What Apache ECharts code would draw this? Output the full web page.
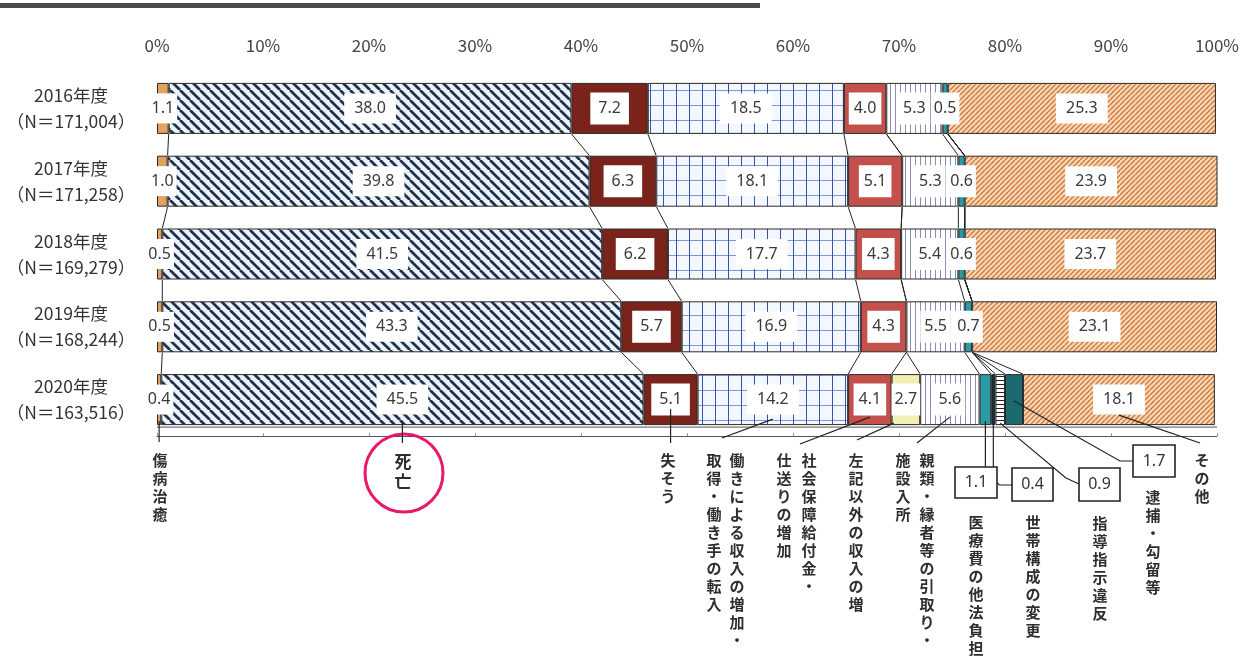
<!DOCTYPE html>
<html><head><meta charset="utf-8">
<script src="https://cdn.jsdelivr.net/npm/echarts@6/dist/echarts.min.js"></script>
<style>html,body{margin:0;padding:0;background:#fff}#c{width:1250px;height:664px}</style>
</head><body><div id="c"></div>
<script>
// ---- data ----
const years = ['2016年度','2017年度','2018年度','2019年度','2020年度'];
const nCounts = ['171,004','171,258','169,279','168,244','163,516'];
const seriesNames = ['傷病治癒','死亡','失そう','働きによる収入の増加・取得・働き手の転入','社会保障給付金・仕送りの増加','左記以外の収入の増','親類・縁者等の引取り・施設入所','医療費の他法負担','世帯構成の変更','指導指示違反','逮捕・勾留等','その他'];
const recovery       = [1.1, 1.0, 0.5, 0.5, 0.4];
const death          = [38.0, 39.8, 41.5, 43.3, 45.5];
const missing        = [7.2, 6.3, 6.2, 5.7, 5.1];
const workIncome     = [18.5, 18.1, 17.7, 16.9, 14.2];
const socialSecurity = [4.0, 5.1, 4.3, 4.3, 4.1];
const otherIncome    = [null, null, null, null, 2.7];
const relatives      = [5.3, 5.3, 5.4, 5.5, 5.6];
const medical        = [0.5, 0.6, 0.6, 0.7, 1.1];
const household      = [null, null, null, null, 0.4];
const guidance       = [null, null, null, null, 0.9];
const arrest         = [null, null, null, null, 1.7];
const others         = [25.3, 23.9, 23.7, 23.1, 18.1];
const xMin = 0, xMax = 100, xStep = 10;

const allVals = [recovery, death, missing, workIncome, socialSecurity, otherIncome, relatives, medical, household, guidance, arrest, others];

// ---- patterns ----
function tile(w, h, draw) {
  const c = document.createElement('canvas'); c.width = w; c.height = h;
  const g = c.getContext('2d'); draw(g, w, h); return c;
}
function diag(s, bg, fg, lw, back) {
  return tile(s, s, (g) => {
    g.fillStyle = bg; g.fillRect(0, 0, s, s);
    g.strokeStyle = fg; g.lineWidth = lw;
    for (const o of [-s, 0, s]) {
      g.beginPath();
      if (back) { g.moveTo(o, 0); g.lineTo(o + s, s); }
      else { g.moveTo(o, s); g.lineTo(o + s, 0); }
      g.stroke();
    }
  });
}
const pDeath = diag(10, '#eaf2fb', '#223049', 2.7, true);
const pOthers = diag(5, '#f7d8b8', '#d27a3c', 1.5, false);
const pWork = tile(13, 15, (g, w, h) => {
  g.fillStyle = '#f4f8fe'; g.fillRect(0, 0, w, h);
  g.fillStyle = '#7e97d6'; g.fillRect(0, 0, w, 1);
  g.fillStyle = '#3454a8'; g.fillRect(0, 0, 1, h);
});
const pRel = tile(5, 6, (g, w, h) => {
  g.fillStyle = '#ffffff'; g.fillRect(0, 0, w, h);
  g.fillStyle = '#8d8bb4'; g.fillRect(0, 0, 1, h);
});
const pGuid = tile(6, 4, (g, w, h) => {
  g.fillStyle = '#ffffff'; g.fillRect(0, 0, w, h);
  g.fillStyle = '#222'; g.fillRect(0, 0, w, 1);
});
const pat = (c) => ({ image: c, repeat: 'repeat' });
const fills = ['#e3a35e', pat(pDeath), '#7a231b', pat(pWork), '#c4504c', '#f2efb2', pat(pRel), '#2a9aa3', '#1d2d33', pat(pGuid), '#1b6a70', pat(pOthers)];
const pads = [[7,3],[7,10],[8,8],[7,10],[8,5],[8,3],[8,4],[8,3],[8,3],[8,3],[8,3],[7,10]];

const BAR_W = 51;
const hiddenLabel2020 = [7, 8, 9, 10];

const series = allVals.map((vals, k) => ({
  name: seriesNames[k], type: 'bar', stack: 'total', barWidth: BAR_W,
  itemStyle: { color: fills[k], borderColor: '#2a2a2a', borderWidth: 1 },
  label: {
    show: true, position: 'inside', color: '#3a3a3a', fontSize: 16,
    fontFamily: 'Noto Sans', backgroundColor: '#fff', padding: pads[k],
    formatter: (p) => (p.value == null ? '' : Number(p.value).toFixed(1))
  },
  data: vals.map((v, i) => (i === 4 && hiddenLabel2020.includes(k)) ? { value: v, label: { show: false } } : v)
}));

// series lines between bars
const lineData = [];
for (let k = 0; k < allVals.length - 1; k++) {
  for (let i = 0; i < years.length - 1; i++) {
    let a = 0, b = 0;
    for (let j = 0; j <= k; j++) { a += allVals[j][i] || 0; b += allVals[j][i + 1] || 0; }
    lineData.push([a, i, b, i + 1]);
  }
}
series.push({
  type: 'custom', silent: true, z: 1,
  encode: { x: [0, 2], y: [1, 3] },
  data: lineData,
  renderItem: (params, api) => {
    const p1 = api.coord([api.value(0), api.value(1)]);
    const p2 = api.coord([api.value(2), api.value(3)]);
    return { type: 'line', shape: { x1: p1[0], y1: p1[1] + BAR_W / 2, x2: p2[0], y2: p2[1] - BAR_W / 2 },
      style: { stroke: '#222', lineWidth: 1 } };
  }
});

const chart = echarts.init(document.getElementById('c'));
chart.setOption({
  animation: false,
  grid: { left: 157, right: 33, top: 72, height: 364 },
  xAxis: [
    { type: 'value', position: 'top', min: xMin, max: xMax, interval: xStep,
      axisLine: { show: false }, axisTick: { show: false }, splitLine: { show: false },
      axisLabel: { formatter: '{value}%', fontSize: 17, color: '#444', margin: 18, fontFamily: 'Noto Sans CJK JP' } },
    { type: 'value', position: 'bottom', min: xMin, max: xMax, interval: xStep,
      axisLine: { show: true, lineStyle: { color: '#555', width: 1 } },
      axisTick: { show: true, inside: true, length: 3, lineStyle: { color: '#999' } },
      splitLine: { show: false }, axisLabel: { show: false } }
  ],
  yAxis: {
    type: 'category', inverse: true,
    data: years.map((y, i) => y + '\n（N＝' + nCounts[i] + '）'),
    axisLine: { show: false }, axisTick: { show: false },
    axisLabel: { fontSize: 17.5, lineHeight: 26, color: '#333', align: 'center', margin: 86, fontFamily: 'Noto Sans CJK JP' }
  },
  series
});

// ---- annotations ----
const px = (x, i) => chart.convertToPixel({ xAxisIndex: 0, yAxisIndex: 0 }, [x, i]);
const last = years.length - 1;
function segCenter(k) {
  let s = 0; for (let j = 0; j < k; j++) s += allVals[j][last] || 0;
  return px(s + (allVals[k][last] || 0) / 2, last)[0];
}
const barBottom = px(0, last)[1] + BAR_W / 2;
const left = px(xMin, last)[0], right = px(xMax, last)[0];
const vtext = (str, x, y, size, lh) => ({
  type: 'text', z: 10,
  style: { text: str.split('').join('\n'), x, y, fontSize: size || 15, fontWeight: 'bold', fontFamily: 'Noto Sans CJK JP',
    lineHeight: lh || 18, fill: '#2e2e2e', textAlign: 'center', textVerticalAlign: 'top' }
});
const pl = (pts) => ({ type: 'polyline', z: 10, shape: { points: pts }, style: { stroke: '#222', lineWidth: 1.2, fill: null } });
const box = (x, y, w, h, v) => ([
  { type: 'rect', z: 10, shape: { x, y, width: w, height: h }, style: { fill: '#fff', stroke: '#222', lineWidth: 1.6 } },
  { type: 'text', z: 11, style: { text: Number(v).toFixed(1), x: x + w / 2, y: y + h / 2, fontSize: 16, fontFamily: 'Noto Sans',
    fill: '#333', textAlign: 'center', textVerticalAlign: 'middle' } }
]);

const g = [];
g.push({ type: 'rect', shape: { x: 0, y: 3, width: 760, height: 5 }, style: { fill: '#4a4a4a' } });
g.push({ type: 'line', shape: { x1: left, y1: barBottom + 2, x2: right, y2: barBottom + 2 }, style: { stroke: '#555', lineWidth: 1 } });

const c0 = segCenter(0), c1 = segCenter(1), c2 = segCenter(2), c3 = segCenter(3), c4 = segCenter(4),
      c5 = segCenter(5), c6 = segCenter(6), c7 = segCenter(7), c8 = segCenter(8), c9 = segCenter(9),
      c10 = segCenter(10), c11 = segCenter(11);

g.push(pl([[c0, barBottom - 4], [c0, 442]]));
g.push(pl([[c1, barBottom - 4], [c1, 443]]));
g.push(pl([[c2, barBottom - 16], [c2, 443]]));
g.push(pl([[c3, barBottom - 6], [722, 438]]));
g.push(pl([[c4, barBottom - 8], [800, 444]]));
g.push(pl([[c5 - 12, barBottom - 2], [857, 440]]));
g.push(pl([[c6, barBottom - 8], [917, 443]]));
g.push(pl([[c7, barBottom - 4], [c7, 467]]));
g.push(pl([[c8, barBottom - 4], [c8, 480], [c8 + 6, 485], [1012, 485]]));
g.push(pl([[c9, barBottom - 2], [1066, 478], [1079, 484]]));
g.push(pl([[c10, barBottom - 24], [1120, 461], [1133, 461]]));
g.push(pl([[c11, barBottom - 10], [1200, 443]]));

g.push(vtext('傷病治癒', 160, 451));
g.push(vtext('死亡', 403, 452, 17, 20));
g.push({ type: 'circle', z: 9, shape: { cx: 404, cy: 473, r: 39 }, style: { fill: null, stroke: '#e8196b', lineWidth: 3 } });
g.push(vtext('失そう', 668, 451));
g.push(vtext('取得・働き手の転入', 714, 451));
g.push(vtext('働きによる収入の増加・', 737, 451));
g.push(vtext('仕送りの増加', 784, 451));
g.push(vtext('社会保障給付金・', 809, 451));
g.push(vtext('左記以外の収入の増', 856, 451));
g.push(vtext('施設入所', 903, 451));
g.push(vtext('親類・縁者等の引取り・', 927, 451));
g.push(vtext('医療費の他法負担', 976, 513));
g.push(vtext('世帯構成の変更', 1033, 513));
g.push(vtext('指導指示違反', 1100, 514));
g.push(vtext('逮捕・勾留等', 1153, 488));
g.push(vtext('その他', 1202, 451));
g.push(...box(955, 467, 42, 31, medical[last]));
g.push(...box(1012, 468, 41, 33, household[last]));
g.push(...box(1079, 468, 41, 33, guidance[last]));
g.push(...box(1133, 445, 42, 32, arrest[last]));

chart.setOption({ graphic: g });
</script>
</body></html>
